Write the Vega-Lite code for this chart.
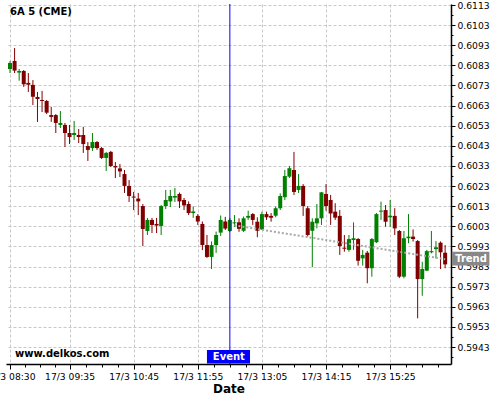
{
"$schema":"https://vega.github.io/schema/vega-lite/v6.json",
"autosize":"none",
"width":445,"height":360,
"padding":{"left":6,"top":4,"right":49,"bottom":36},
"background":"#ffffff",
"title":{"text":"6A 5 (CME)","anchor":"start","frame":"group","orient":"top","offset":-16,"dx":4,"fontSize":10,"fontWeight":"bold","font":"DejaVu Sans","color":"#000000"},
"config":{"font":"DejaVu Sans","view":{"stroke":null}},
"datasets":{
"candles":[
{"t":"2025-03-17T08:30","o":0.60812,"h":0.60852,"l":0.60792,"c":0.60842},
{"t":"2025-03-17T08:35","o":0.60852,"h":0.60916,"l":0.60792,"c":0.60804},
{"t":"2025-03-17T08:40","o":0.60794,"h":0.60812,"l":0.60754,"c":0.60802},
{"t":"2025-03-17T08:45","o":0.60802,"h":0.60807,"l":0.60723,"c":0.60736},
{"t":"2025-03-17T08:50","o":0.60743,"h":0.60792,"l":0.60698,"c":0.60734},
{"t":"2025-03-17T08:55","o":0.60733,"h":0.60757,"l":0.60633,"c":0.60674},
{"t":"2025-03-17T09:00","o":0.60673,"h":0.60698,"l":0.60549,"c":0.60663},
{"t":"2025-03-17T09:05","o":0.60658,"h":0.60703,"l":0.60598,"c":0.60653},
{"t":"2025-03-17T09:10","o":0.60653,"h":0.60658,"l":0.60588,"c":0.60595},
{"t":"2025-03-17T09:15","o":0.60583,"h":0.60623,"l":0.60549,"c":0.60574},
{"t":"2025-03-17T09:20","o":0.60583,"h":0.60588,"l":0.60494,"c":0.60544},
{"t":"2025-03-17T09:25","o":0.60534,"h":0.60603,"l":0.60519,"c":0.60544},
{"t":"2025-03-17T09:30","o":0.60534,"h":0.60544,"l":0.60424,"c":0.60494},
{"t":"2025-03-17T09:35","o":0.60494,"h":0.60534,"l":0.60439,"c":0.60474},
{"t":"2025-03-17T09:40","o":0.60484,"h":0.60554,"l":0.60459,"c":0.60494},
{"t":"2025-03-17T09:45","o":0.60484,"h":0.60514,"l":0.60444,"c":0.60474},
{"t":"2025-03-17T09:50","o":0.60484,"h":0.60524,"l":0.60395,"c":0.60439},
{"t":"2025-03-17T09:55","o":0.60429,"h":0.60449,"l":0.60355,"c":0.60410},
{"t":"2025-03-17T10:00","o":0.60419,"h":0.60494,"l":0.60405,"c":0.60449},
{"t":"2025-03-17T10:05","o":0.60449,"h":0.60454,"l":0.60410,"c":0.60419},
{"t":"2025-03-17T10:10","o":0.60419,"h":0.60424,"l":0.60365,"c":0.60370},
{"t":"2025-03-17T10:15","o":0.60370,"h":0.60400,"l":0.60305,"c":0.60395},
{"t":"2025-03-17T10:20","o":0.60400,"h":0.60405,"l":0.60325,"c":0.60330},
{"t":"2025-03-17T10:25","o":0.60330,"h":0.60350,"l":0.60270,"c":0.60323},
{"t":"2025-03-17T10:30","o":0.60318,"h":0.60340,"l":0.60275,"c":0.60303},
{"t":"2025-03-17T10:35","o":0.60290,"h":0.60310,"l":0.60196,"c":0.60231},
{"t":"2025-03-17T10:40","o":0.60231,"h":0.60260,"l":0.60151,"c":0.60181},
{"t":"2025-03-17T10:45","o":0.60178,"h":0.60201,"l":0.60111,"c":0.60173},
{"t":"2025-03-17T10:50","o":0.60168,"h":0.60196,"l":0.60086,"c":0.60154},
{"t":"2025-03-17T10:55","o":0.60131,"h":0.60141,"l":0.59932,"c":0.60017},
{"t":"2025-03-17T11:00","o":0.60007,"h":0.60072,"l":0.59987,"c":0.60062},
{"t":"2025-03-17T11:05","o":0.60062,"h":0.60072,"l":0.59997,"c":0.60037},
{"t":"2025-03-17T11:10","o":0.60042,"h":0.60072,"l":0.59997,"c":0.60034},
{"t":"2025-03-17T11:15","o":0.60032,"h":0.60136,"l":0.59987,"c":0.60131},
{"t":"2025-03-17T11:20","o":0.60131,"h":0.60211,"l":0.60116,"c":0.60161},
{"t":"2025-03-17T11:25","o":0.60154,"h":0.60211,"l":0.60126,"c":0.60181},
{"t":"2025-03-17T11:30","o":0.60173,"h":0.60221,"l":0.60151,"c":0.60181},
{"t":"2025-03-17T11:35","o":0.60191,"h":0.60198,"l":0.60121,"c":0.60154},
{"t":"2025-03-17T11:40","o":0.60161,"h":0.60171,"l":0.60111,"c":0.60134},
{"t":"2025-03-17T11:45","o":0.60141,"h":0.60154,"l":0.60086,"c":0.60096},
{"t":"2025-03-17T11:50","o":0.60096,"h":0.60129,"l":0.60072,"c":0.60104},
{"t":"2025-03-17T11:55","o":0.60082,"h":0.60091,"l":0.60037,"c":0.60054},
{"t":"2025-03-17T12:00","o":0.60042,"h":0.60054,"l":0.59912,"c":0.59937},
{"t":"2025-03-17T12:05","o":0.59937,"h":0.59987,"l":0.59873,"c":0.59878},
{"t":"2025-03-17T12:10","o":0.59878,"h":0.59955,"l":0.59818,"c":0.59937},
{"t":"2025-03-17T12:15","o":0.59937,"h":0.60004,"l":0.59898,"c":0.59987},
{"t":"2025-03-17T12:20","o":0.59999,"h":0.60084,"l":0.59982,"c":0.60062},
{"t":"2025-03-17T12:25","o":0.60054,"h":0.60077,"l":0.60012,"c":0.60019},
{"t":"2025-03-17T12:30","o":0.60007,"h":0.60072,"l":0.60002,"c":0.60062},
{"t":"2025-03-17T12:35","o":0.60045,"h":0.60086,"l":0.60027,"c":0.60050},
{"t":"2025-03-17T12:40","o":0.60050,"h":0.60070,"l":0.60003,"c":0.60018},
{"t":"2025-03-17T12:45","o":0.60008,"h":0.60079,"l":0.60002,"c":0.60070},
{"t":"2025-03-17T12:50","o":0.60073,"h":0.60108,"l":0.60062,"c":0.60082},
{"t":"2025-03-17T12:55","o":0.60091,"h":0.60096,"l":0.60037,"c":0.60062},
{"t":"2025-03-17T13:00","o":0.60053,"h":0.60075,"l":0.59976,"c":0.60008},
{"t":"2025-03-17T13:05","o":0.60015,"h":0.60103,"l":0.60012,"c":0.60091},
{"t":"2025-03-17T13:10","o":0.60091,"h":0.60103,"l":0.60062,"c":0.60075},
{"t":"2025-03-17T13:15","o":0.60082,"h":0.60096,"l":0.60053,"c":0.60073},
{"t":"2025-03-17T13:20","o":0.60083,"h":0.60128,"l":0.60075,"c":0.60120},
{"t":"2025-03-17T13:25","o":0.60120,"h":0.60194,"l":0.60111,"c":0.60181},
{"t":"2025-03-17T13:30","o":0.60175,"h":0.60310,"l":0.60161,"c":0.60280},
{"t":"2025-03-17T13:35","o":0.60277,"h":0.60330,"l":0.60270,"c":0.60319},
{"t":"2025-03-17T13:40","o":0.60310,"h":0.60400,"l":0.60186,"c":0.60201},
{"t":"2025-03-17T13:45","o":0.60211,"h":0.60290,"l":0.60196,"c":0.60231},
{"t":"2025-03-17T13:50","o":0.60231,"h":0.60240,"l":0.60082,"c":0.60131},
{"t":"2025-03-17T13:55","o":0.60120,"h":0.60131,"l":0.59979,"c":0.59987},
{"t":"2025-03-17T14:00","o":0.60008,"h":0.60070,"l":0.59827,"c":0.60053},
{"t":"2025-03-17T14:05","o":0.60045,"h":0.60141,"l":0.60020,"c":0.60070},
{"t":"2025-03-17T14:10","o":0.60070,"h":0.60201,"l":0.60037,"c":0.60199},
{"t":"2025-03-17T14:15","o":0.60191,"h":0.60240,"l":0.60108,"c":0.60131},
{"t":"2025-03-17T14:20","o":0.60161,"h":0.60186,"l":0.60037,"c":0.60094},
{"t":"2025-03-17T14:25","o":0.60103,"h":0.60145,"l":0.60062,"c":0.60073},
{"t":"2025-03-17T14:30","o":0.60082,"h":0.60111,"l":0.59888,"c":0.59932},
{"t":"2025-03-17T14:35","o":0.59924,"h":0.59987,"l":0.59904,"c":0.59919},
{"t":"2025-03-17T14:40","o":0.59913,"h":0.59987,"l":0.59904,"c":0.59967},
{"t":"2025-03-17T14:45","o":0.59962,"h":0.60050,"l":0.59913,"c":0.59971},
{"t":"2025-03-17T14:50","o":0.59967,"h":0.59972,"l":0.59835,"c":0.59859},
{"t":"2025-03-17T14:55","o":0.59871,"h":0.59913,"l":0.59835,"c":0.59888},
{"t":"2025-03-17T15:00","o":0.59899,"h":0.59908,"l":0.59747,"c":0.59822},
{"t":"2025-03-17T15:05","o":0.59822,"h":0.59972,"l":0.59780,"c":0.59967},
{"t":"2025-03-17T15:10","o":0.59951,"h":0.60096,"l":0.59947,"c":0.60091},
{"t":"2025-03-17T15:15","o":0.60103,"h":0.60153,"l":0.60062,"c":0.60108},
{"t":"2025-03-17T15:20","o":0.60111,"h":0.60136,"l":0.60028,"c":0.60053},
{"t":"2025-03-17T15:25","o":0.60075,"h":0.60161,"l":0.60028,"c":0.60083},
{"t":"2025-03-17T15:30","o":0.60082,"h":0.60120,"l":0.59987,"c":0.60020},
{"t":"2025-03-17T15:35","o":0.60007,"h":0.60012,"l":0.59773,"c":0.59780},
{"t":"2025-03-17T15:40","o":0.59780,"h":0.60007,"l":0.59772,"c":0.59971},
{"t":"2025-03-17T15:45","o":0.59971,"h":0.60091,"l":0.59946,"c":0.59979},
{"t":"2025-03-17T15:50","o":0.59979,"h":0.60015,"l":0.59954,"c":0.59967},
{"t":"2025-03-17T15:55","o":0.59957,"h":0.59962,"l":0.59573,"c":0.59768},
{"t":"2025-03-17T16:00","o":0.59768,"h":0.59854,"l":0.59685,"c":0.59818},
{"t":"2025-03-17T16:05","o":0.59810,"h":0.59913,"l":0.59808,"c":0.59907},
{"t":"2025-03-17T16:10","o":0.59901,"h":0.60007,"l":0.59896,"c":0.59907},
{"t":"2025-03-17T16:15","o":0.59917,"h":0.59957,"l":0.59871,"c":0.59926},
{"t":"2025-03-17T16:20","o":0.59949,"h":0.59955,"l":0.59818,"c":0.59901},
{"t":"2025-03-17T16:25","o":0.59899,"h":0.59937,"l":0.59822,"c":0.59841}
],
"trend":[
{"t":"2025-03-17T12:35","p":0.60035},
{"t":"2025-03-17T16:25","p":0.59867}
],
"event":[
{"t":"2025-03-17T12:30","label":"Event"}
]
},
"layer":[
{"data":{"name":"candles"},
"mark":{"type":"rule","strokeWidth":1},
"encoding":{
"x":{"field":"t","type":"temporal","title":"Date",
"scale":{"nice":false,"padding":0,"domain":[{"year":2025,"month":3,"date":17,"hours":8,"minutes":25,"seconds":38},{"year":2025,"month":3,"date":17,"hours":16,"minutes":31,"seconds":24}]},
"axis":{
"tickCount":200,
"values":[
{"year":2025,"month":3,"date":17,"hours":8,"minutes":30},
{"year":2025,"month":3,"date":17,"hours":8,"minutes":46,"seconds":15},
{"year":2025,"month":3,"date":17,"hours":9,"minutes":2,"seconds":30},
{"year":2025,"month":3,"date":17,"hours":9,"minutes":18,"seconds":45},
{"year":2025,"month":3,"date":17,"hours":9,"minutes":35},
{"year":2025,"month":3,"date":17,"hours":9,"minutes":52,"seconds":30},
{"year":2025,"month":3,"date":17,"hours":10,"minutes":10},
{"year":2025,"month":3,"date":17,"hours":10,"minutes":27,"seconds":30},
{"year":2025,"month":3,"date":17,"hours":10,"minutes":45},
{"year":2025,"month":3,"date":17,"hours":11,"minutes":2,"seconds":30},
{"year":2025,"month":3,"date":17,"hours":11,"minutes":20},
{"year":2025,"month":3,"date":17,"hours":11,"minutes":37,"seconds":30},
{"year":2025,"month":3,"date":17,"hours":11,"minutes":55},
{"year":2025,"month":3,"date":17,"hours":12,"minutes":12,"seconds":30},
{"year":2025,"month":3,"date":17,"hours":12,"minutes":30},
{"year":2025,"month":3,"date":17,"hours":12,"minutes":47,"seconds":30},
{"year":2025,"month":3,"date":17,"hours":13,"minutes":5},
{"year":2025,"month":3,"date":17,"hours":13,"minutes":22,"seconds":30},
{"year":2025,"month":3,"date":17,"hours":13,"minutes":40},
{"year":2025,"month":3,"date":17,"hours":13,"minutes":57,"seconds":30},
{"year":2025,"month":3,"date":17,"hours":14,"minutes":15},
{"year":2025,"month":3,"date":17,"hours":14,"minutes":32,"seconds":30},
{"year":2025,"month":3,"date":17,"hours":14,"minutes":50},
{"year":2025,"month":3,"date":17,"hours":15,"minutes":7,"seconds":30},
{"year":2025,"month":3,"date":17,"hours":15,"minutes":25},
{"year":2025,"month":3,"date":17,"hours":15,"minutes":42,"seconds":30},
{"year":2025,"month":3,"date":17,"hours":16,"minutes":0},
{"year":2025,"month":3,"date":17,"hours":16,"minutes":17,"seconds":30}
],
"format":"%-d/%-m %H:%M",
"labelExpr":"indexof([510,575,645,715,785,855,925], hours(datum.value)*60+minutes(datum.value)) >= 0 && seconds(datum.value) == 0 ? datum.label : ''",
"labelFlush":false,"labelOverlap":false,"labelBound":false,
"labelFontSize":9.2,"labelColor":"#000000","labelPadding":3,
"tickColor":"#000000","tickSize":{"condition":{"test":"indexof([510,575,645,715,785,855,925], hours(datum.value)*60+minutes(datum.value)) >= 0 && seconds(datum.value) == 0","value":5},"value":3},
"domainColor":"#000000","domainWidth":1.5,
"grid":true,"gridColor":"#c8c8c8","gridDash":[3,2],
"gridOpacity":{"condition":{"test":"indexof([510,575,645,715,785,855,925], hours(datum.value)*60+minutes(datum.value)) >= 0 && seconds(datum.value) == 0","value":1},"value":0},
"titleFontSize":12,"titleFontWeight":"bold","titleColor":"#000000","titlePadding":2}},
"y":{"field":"l","type":"quantitative","title":null,
"scale":{"domain":[0.59346,0.61135],"zero":false,"nice":false},
"axis":{"orient":"right","tickCount":200,
"values":[0.5938,0.5943,0.5948,0.5953,0.5958,0.5963,0.5968,0.5973,0.5978,0.5983,0.5988,0.5993,0.5998,0.6003,0.6008,0.6013,0.6018,0.6023,0.6028,0.6033,0.6038,0.6043,0.6048,0.6053,0.6058,0.6063,0.6068,0.6073,0.6078,0.6083,0.6088,0.6093,0.6098,0.6103,0.6108,0.6113],
"labelExpr":"round(datum.value*10000) % 10 == 3 ? format(datum.value, '.4f') : ''",
"labelFontSize":9.2,"labelColor":"#000000","labelPadding":2,"labelOverlap":false,"labelBound":false,"labelFlush":false,
"tickColor":"#000000","tickSize":{"condition":{"test":"round(datum.value*10000) % 10 == 3","value":4},"value":2},
"domainColor":"#000000","domainWidth":1.5,
"grid":true,"gridColor":"#c8c8c8","gridDash":[3,2],
"gridOpacity":{"condition":{"test":"round(datum.value*10000) % 10 == 3","value":1},"value":0}}},
"y2":{"field":"h"},
"color":{"condition":{"test":"datum.c > datum.o","value":"#008000"},"value":"#800000"}}},
{"data":{"name":"candles"},
"mark":{"type":"bar","width":4},
"encoding":{
"x":{"field":"t","type":"temporal"},
"y":{"field":"o","type":"quantitative"},
"y2":{"field":"c"},
"color":{"condition":{"test":"datum.c > datum.o","value":"#008000"},"value":"#800000"}}},
{"data":{"name":"trend"},
"mark":{"type":"line","color":"#a8a8a8","strokeWidth":2,"strokeDash":[2,2]},
"encoding":{"x":{"field":"t","type":"temporal"},"y":{"field":"p","type":"quantitative"}}},
{"data":{"name":"event"},
"mark":{"type":"rule","color":"#0000ff","strokeWidth":1},
"encoding":{"x":{"field":"t","type":"temporal"},"y":{"datum":0.61135,"type":"quantitative"},"y2":{"datum":0.59346}}},
{"data":{"values":[{}]},
"mark":{"type":"rect","color":"#0000ff"},
"encoding":{
"x":{"datum":{"year":2025,"month":3,"date":17,"hours":12,"minutes":5},"type":"temporal"},
"x2":{"datum":{"year":2025,"month":3,"date":17,"hours":12,"minutes":52}},
"y":{"datum":0.59416,"type":"quantitative"},
"y2":{"datum":0.59349}}},
{"data":{"name":"event"},
"mark":{"type":"text","color":"#ffffff","fontWeight":"bold","fontSize":10,"align":"center","baseline":"middle","dx":-1},
"encoding":{"x":{"field":"t","type":"temporal"},"y":{"datum":0.59382,"type":"quantitative"},"text":{"field":"label"}}},
{"data":{"values":[{}]},
"mark":{"type":"rect","color":"#888888","clip":false},
"encoding":{
"x":{"datum":{"year":2025,"month":3,"date":17,"hours":16,"minutes":32,"seconds":13},"type":"temporal"},
"x2":{"datum":{"year":2025,"month":3,"date":17,"hours":17,"minutes":13,"seconds":18}},
"y":{"datum":0.59904,"type":"quantitative"},
"y2":{"datum":0.59835}}},
{"data":{"values":[{}]},
"mark":{"type":"text","color":"#ffffff","fontWeight":"bold","fontSize":10,"align":"center","baseline":"middle","clip":false},
"encoding":{
"x":{"datum":{"year":2025,"month":3,"date":17,"hours":16,"minutes":53,"seconds":16},"type":"temporal"},
"y":{"datum":0.59868,"type":"quantitative"},
"text":{"value":"Trend"}}},
{"data":{"values":[{}]},
"mark":{"type":"text","color":"#000000","fontWeight":"bold","fontSize":10,"align":"left","baseline":"middle"},
"encoding":{
"x":{"datum":{"year":2025,"month":3,"date":17,"hours":8,"minutes":35,"seconds":30},"type":"temporal"},
"y":{"datum":0.59396,"type":"quantitative"},
"text":{"value":"www.delkos.com"}}}
]
}
